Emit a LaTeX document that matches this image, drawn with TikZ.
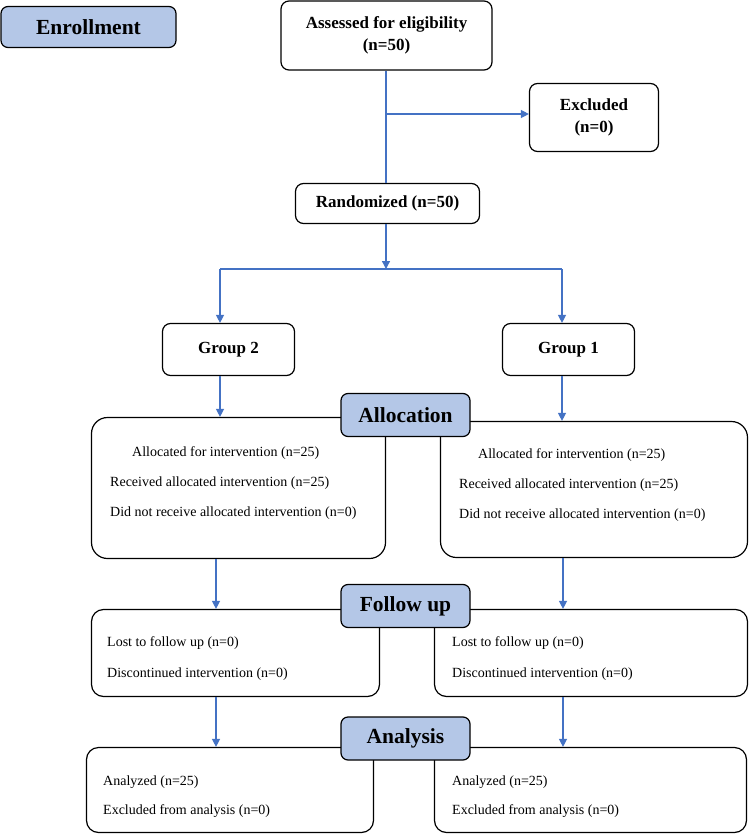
\documentclass[tikz,border=0pt]{standalone}
\usepackage{fontspec}
\setmainfont{Liberation Serif}
\usetikzlibrary{arrows.meta,positioning}
\definecolor{lblue}{HTML}{B4C7E7}
\definecolor{arrblue}{HTML}{4472C4}

\begin{document}
\begin{tikzpicture}[x=1pt,y=-1pt,
box/.style={draw,line width=1.2pt,rounded corners=8pt,align=center,font=\fontsize{17}{22}\selectfont\bfseries},
bigbox/.style={draw,line width=1.2pt,rounded corners=16pt},
stage/.style={draw,line width=1.2pt,rounded corners=7pt,fill=lblue,minimum width=129pt,minimum height=43pt,font=\fontsize{21.5}{26}\selectfont\bfseries},
entry/.style={anchor=west,inner sep=0pt,font=\fontsize{14}{17}\selectfont},
link/.style={draw=arrblue,line width=1.3pt},
arr/.style={link,-{Triangle[length=8pt,width=8pt]}}]

\useasboundingbox (0,0) rectangle (750,835);

\node[stage, minimum width=175pt, minimum height=41pt] (Enrollment) at (88.5,27) {Enrollment};
\node[box, minimum width=211pt, minimum height=69pt] (Assessed) at (386.5,35.5) {Assessed for eligibility\\(n=50)};
\node[box, minimum width=129pt, minimum height=68pt] (Excluded) at (594,117.5) {Excluded\\(n=0)};
\node[box, minimum width=184pt, minimum height=40pt] (Randomized) at (387.5,203.5) {Randomized (n=50)};
\node[box, minimum width=132pt, minimum height=52pt] (Group2) at (228.5,349.5) {Group 2};
\node[box, minimum width=132pt, minimum height=52pt] (Group1) at (568.5,349.5) {Group 1};

\node[bigbox, minimum width=294pt, minimum height=141pt] (AllocL) at (238.5,488) {};
\node[bigbox, minimum width=307pt, minimum height=136pt] (AllocR) at (594,489.5) {};
\node[bigbox, rounded corners=12pt, minimum width=288pt, minimum height=87pt] (FollowL) at (235.5,653) {};
\node[bigbox, rounded corners=12pt, minimum width=313pt, minimum height=87pt] (FollowR) at (591,653) {};
\node[bigbox, rounded corners=12pt, minimum width=287pt, minimum height=85pt] (AnalysisL) at (230,790) {};
\node[bigbox, rounded corners=12pt, minimum width=312pt, minimum height=85pt] (AnalysisR) at (590.5,790) {};

\node[stage] (Allocation) at (405.5,415) {Allocation};
\node[stage] (Followup) at (405.5,606) {Follow up};
\node[stage] (Analysis) at (405.5,738.5) {Analysis};

\node[entry] (AllocL-1) at (132,453) {Allocated for intervention (n=25)};
\node[entry] (AllocL-2) at (110,483) {Received allocated intervention (n=25)};
\node[entry] (AllocL-3) at (110,513) {Did not receive allocated intervention (n=0)};
\node[entry] (AllocR-1) at (478,455) {Allocated for intervention (n=25)};
\node[entry] (AllocR-2) at (459,485) {Received allocated intervention (n=25)};
\node[entry] (AllocR-3) at (459,515) {Did not receive allocated intervention (n=0)};

\node[entry] (FollowL-1) at (107,643) {Lost to follow up (n=0)};
\node[entry] (FollowL-2) at (107,674) {Discontinued intervention (n=0)};
\node[entry] (FollowR-1) at (452,643) {Lost to follow up (n=0)};
\node[entry] (FollowR-2) at (452,674) {Discontinued intervention (n=0)};

\node[entry] (AnalysisL-1) at (103,782) {Analyzed (n=25)};
\node[entry] (AnalysisL-2) at (103,811) {Excluded from analysis (n=0)};
\node[entry] (AnalysisR-1) at (452,782) {Analyzed (n=25)};
\node[entry] (AnalysisR-2) at (452,811) {Excluded from analysis (n=0)};

\coordinate (Branch) at (386,114);
\coordinate (Split) at (386,269);
\coordinate (SplitL) at (220,269);
\coordinate (SplitR) at (562,269);
\coordinate (ColL) at (216,0);
\coordinate (ColR) at (563,0);

\draw[link] (Assessed.south -| Branch)--(Randomized.north -| Branch);
\draw[arr] (Branch)--(Excluded.west |- Branch);
\draw[arr] (Randomized.south -| Split)--(Split);
\draw[link] (SplitL)--(SplitR);
\draw[arr] (SplitL)--(SplitL |- Group2.north);
\draw[arr] (SplitR)--(SplitR |- Group1.north);
\draw[arr] (SplitL |- Group2.south)--(SplitL |- AllocL.north);
\draw[arr] (SplitR |- Group1.south)--(SplitR |- AllocR.north);
\draw[arr] (ColL |- AllocL.south)--(ColL |- FollowL.north);
\draw[arr] (ColR |- AllocR.south)--(ColR |- FollowR.north);
\draw[arr] (ColL |- FollowL.south)--(ColL |- AnalysisL.north);
\draw[arr] (ColR |- FollowR.south)--(ColR |- AnalysisR.north);

\end{tikzpicture}
\end{document}
